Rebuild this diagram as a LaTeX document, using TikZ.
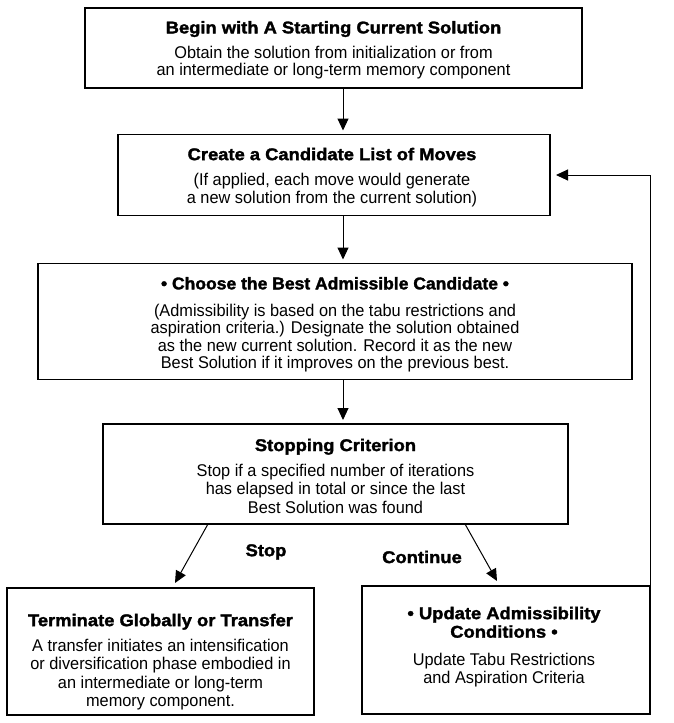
\documentclass[tikz,border=0pt]{standalone}
\usepackage{fontspec}
\setmainfont{Liberation Sans}[FakeStretch=0.96]
\newfontfamily\heavy{Liberation Sans Bold}[FakeStretch=1.08, FakeBold=1.8]
\newfontfamily\wideheavy{Liberation Sans Bold}[FakeStretch=1.03, FakeBold=1.8]
\usetikzlibrary{arrows.meta}
\tikzset{
  x=1pt, y=-1pt,
  box/.style={draw=black, line width=1.2pt, inner sep=0pt, outer sep=0pt, rectangle},
  txt/.style={inner sep=0pt, align=center, font=\fontsize{17}{18.5}\selectfont},
  lbl/.style={inner sep=0pt, font=\fontsize{17}{18.5}\selectfont\heavy},
  arr/.style={line width=1pt, -{Triangle[length=12pt,width=11pt]}},
}
\begin{document}
\begin{tikzpicture}
\useasboundingbox (0,0) rectangle (673,723);
% boxes
\node[box, minimum width=497pt, minimum height=80pt] (b1) at (333.5,48) {};
\node[box, minimum width=432pt, minimum height=81pt] (b2) at (334,175) {};
\node[box, minimum width=594pt, minimum height=116pt] (b3) at (335,321.5) {};
\node[box, minimum width=465pt, minimum height=100pt] (b4) at (335.5,474) {};
\node[box, minimum width=307pt, minimum height=127pt] (b5) at (160.5,651.5) {};
\node[box, minimum width=288pt, minimum height=128pt] (b6) at (506,650) {};
% texts
\node[txt, font=\fontsize{17}{17}\selectfont] (t1) at (333.5,50) {{\heavy Begin with A Starting Current Solution}\\[8pt]
  Obtain the solution from initialization or from\\
  an intermediate or long-term memory component};
\node[txt] (t2) at (332,177.5) {{\heavy Create a Candidate List of Moves}\\[6.5pt]
  (If applied, each move would generate\\
  a new solution from the current solution)};
\node[txt, font=\fontsize{17}{17.4}\selectfont] (t3) at (335,324.5) {{\wideheavy • Choose the Best Admissible Candidate •}\\[9.5pt]
  (Admissibility is based on the tabu restrictions and\\
  aspiration criteria.) Designate the solution obtained\\
  as the new current solution. Record it as the new\\
  Best Solution if it improves on the previous best.};
\node[txt] (t4) at (335.5,476) {{\heavy Stopping Criterion}\\[6.5pt]
  Stop if a specified number of iterations\\
  has elapsed in total or since the last\\
  Best Solution was found};
\node[txt] (t5) at (160.5,662) {{\heavy Terminate Globally or Transfer}\\[6.5pt]
  A transfer initiates an intensification\\
  or diversification phase embodied in\\
  an intermediate or long-term\\
  memory component.};
\node[txt] (t6) at (504,647) {{\heavy • Update Admissibility}\\
  {\heavy Conditions •}\\[9pt]
  Update Tabu Restrictions\\
  and Aspiration Criteria};
% labels
\node[lbl] (stop) at (266,552) {Stop};
\node[lbl] (cont) at (422,557) {Continue};
% helper coordinates
\coordinate (ax) at (343,0);
\coordinate (s1) at (208,0);
\coordinate (s2) at (465,0);
\coordinate (e1) at (175,583);
\coordinate (e2) at (497,581);
% connectors
\draw[arr, shorten >=4pt] (b1.south -| ax) -- (b2.north -| ax);
\draw[arr, shorten >=4pt] (b2.south -| ax) -- (b3.north -| ax);
\draw[arr, shorten >=4pt] (b3.south -| ax) -- (b4.north -| ax);
\draw[arr] (b4.south -| s1) -- (e1);
\draw[arr] (b4.south -| s2) -- (e2);
\draw[arr, shorten >=6pt] (b6.north east) |- (b2.east);
\end{tikzpicture}
\end{document}
